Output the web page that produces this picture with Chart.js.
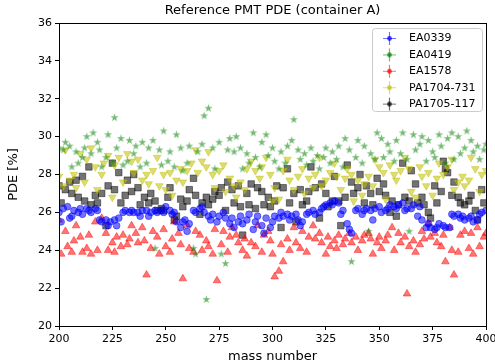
<!DOCTYPE html>
<html>
<head>
<meta charset="utf-8">
<script src="https://cdn.jsdelivr.net/npm/chart.js@4/dist/chart.umd.min.js"></script>
<style>
  body { margin: 0; background: #fff; }
  #wrap { width: 495px; height: 364px; }
</style>
</head>
<body>
<div id="wrap"><canvas id="pdeChart" width="495" height="364"></canvas></div>
<script>
// Mass numbers (x) shared by every PMT series
const masses = [
  200, 201, 202, 203, 204, 205, 206, 207, 208, 209, 210, 211, 212, 213, 214, 215, 216, 217, 218, 219,
  220, 221, 222, 223, 224, 225, 226, 227, 228, 229, 230, 231, 232, 233, 234, 235, 236, 237, 238, 239,
  240, 241, 242, 243, 244, 245, 246, 247, 248, 249, 250, 251, 252, 253, 254, 255, 256, 257, 258, 259,
  260, 261, 262, 263, 264, 265, 266, 267, 268, 269, 270, 271, 272, 273, 274, 275, 276, 277, 278, 279,
  280, 281, 282, 283, 284, 285, 286, 287, 288, 289, 290, 291, 292, 293, 294, 295, 296, 297, 298, 299,
  300, 301, 302, 303, 304, 305, 306, 307, 308, 309, 310, 311, 312, 313, 314, 315, 316, 317, 318, 319,
  320, 321, 322, 323, 324, 325, 326, 327, 328, 329, 330, 331, 332, 333, 334, 335, 336, 337, 338, 339,
  340, 341, 342, 343, 344, 345, 346, 347, 348, 349, 350, 351, 352, 353, 354, 355, 356, 357, 358, 359,
  360, 361, 362, 363, 364, 365, 366, 367, 368, 369, 370, 371, 372, 373, 374, 375, 376, 377, 378, 379,
  380, 381, 382, 383, 384, 385, 386, 387, 388, 389, 390, 391, 392, 393, 394, 395, 396, 397, 398, 399,
  400
];

// PDE [%] per mass number, one row per 10 masses (null = not measured)
const ea0339 = [
  26.0, 25.5, 26.2, null, 26.3, 25.7, 25.8, 26.1, null, 26.0,
  26.2, 25.9, null, 26.2, 26.1, 26.0, null, 26.2, 26.1, 25.6,
  25.5, null, 25.6, 25.3, 25.5, null, 25.6, 25.3, 25.7, null,
  26.0, 26.1, null, 26.0, 26.1, 26.0, null, 26.0, 25.8, 26.1,
  null, 26.1, 25.8, 26.0, null, 26.1, 26.0, null, 26.1, 26.0,
  26.3, null, 26.1, 25.9, 26.0, 25.5, null, 25.2, 25.5, 25.6,
  25.0, 25.4, null, 26.1, 26.0, null, 26.2, 26.3, 26.0, null,
  25.8, 25.6, 25.9, null, 25.5, 25.8, null, 26.0, 25.7, null,
  25.4, 25.7, 25.2, null, 25.5, 25.8, 25.4, null, 25.6, 25.9,
  null, 25.1, 25.5, 25.8, null, 25.3, 24.9, 25.7, null, 25.2,
  25.5, 25.8, null, 25.7, 26.0, 25.8, null, 25.9, 25.6, 25.8,
  null, 25.9, 25.6, 25.3, 25.5, null, 25.9, 26.0, null, 26.1,
  25.9, null, 26.0, 26.2, 26.3, 26.4, null, 26.5, 26.4, 26.6,
  null, 26.5, 25.9, 26.1, null, 25.4, 25.1, 24.9, null, 26.1,
  26.2, null, 25.9, 26.1, 26.2, null, 26.1, 25.6, 26.2, null,
  26.3, 26.0, null, 26.1, 26.2, 26.4, null, 26.3, 26.2, 26.4,
  null, 26.5, 26.1, 26.2, null, 26.2, 26.4, null, 25.8, 26.3,
  25.6, null, 25.2, 25.4, 25.2, null, 25.1, 25.2, 25.4, null,
  25.3, 25.2, null, 25.2, 25.9, 25.8, null, 25.9, 25.7, 25.8,
  25.6, null, 25.7, 25.8, 25.5, null, 25.6, 25.9, 26.0, null,
  26.1
];

const ea0419 = [
  29.4, null, 29.3, 29.7, null, 29.5, 28.4, null, 29.2, 28.6,
  null, 28.9, 29.4, 30.0, null, 29.1, 30.2, null, 29.7, 29.3,
  28.4, null, 28.9, 30.1, null, 28.6, 31.0, 29.4, null, 29.9,
  28.5, null, 28.7, 29.8, null, 29.1, 29.5, null, 28.4, 29.7,
  null, 28.6, 29.4, null, 29.8, 24.1, null, 29.3, 28.5, 30.3,
  null, 28.7, 29.2, null, 28.4, 30.1, null, 29.4, 28.2, null,
  28.6, 29.5, null, 24.1, 23.8, 29.2, null, 29.6, 31.1, 21.4,
  31.5, null, 29.4, 28.3, null, 29.7, 23.8, null, 23.3, 29.3,
  29.9, null, 29.2, 30.0, null, 29.4, 28.3, null, 29.1, 28.6,
  null, 30.2, 28.9, null, 28.4, 29.7, null, 30.1, 29.0, null,
  29.4, 28.7, null, 28.3, 29.2, null, 28.6, 29.5, null, 29.8,
  30.9, null, 29.3, 28.8, null, 29.1, 28.5, null, 29.4, 28.7,
  null, 29.0, 28.3, null, 28.9, 29.4, null, 28.6, 29.2, null,
  28.8, 29.5, null, 28.4, 29.9, null, 29.3, 23.4, null, 28.9,
  29.8, null, 28.6, 29.5, null, 25.0, 29.1, null, 28.8, 30.2,
  null, 29.9, 28.9, null, 29.6, 29.2, null, 28.7, 29.8, null,
  29.1, 30.2, null, 28.8, 25.0, null, 30.1, 29.3, null, 29.6,
  30.0, null, 28.7, 29.8, null, 29.2, 28.9, null, 30.1, 29.5,
  null, 28.6, 29.9, null, 30.2, 28.8, null, 30.0, 29.1, null,
  29.4, 30.3, null, 29.8, 29.2, null, 29.5, 28.8, null, 29.3,
  29.6
];

const ea1578 = [
  25.6, 23.8, null, 25.0, 24.2, null, 23.9, 24.5, 25.3, null,
  24.7, 23.9, null, 24.1, 24.8, 23.8, null, 25.5, 24.0, null,
  25.7, null, 24.9, 24.0, null, 24.4, 23.9, 24.7, null, 24.2,
  24.8, null, 24.3, 24.6, 25.3, null, 24.9, 24.4, null, 25.2,
  24.5, 22.7, null, 24.1, 25.0, null, 24.7, 23.8, null, 25.1,
  24.2, null, 23.9, 24.6, 25.5, null, 24.9, 24.3, 22.5, null,
  25.3, 24.1, null, 23.9, 25.0, null, 24.8, 24.0, null, 24.5,
  24.2, null, 23.8, 25.1, 22.4, null, 24.3, 25.0, null, 23.9,
  24.7, 25.2, null, 24.8, 24.4, null, 24.0, 24.6, 23.7, null,
  24.4, null, 24.2, 25.3, null, 23.9, 24.8, null, 25.0, 24.5,
  23.8, 22.6, null, 22.9, 24.3, 23.4, null, 24.6, 24.0, null,
  25.2, 24.4, null, 24.1, 25.0, null, 23.9, 24.7, null, 25.3,
  24.6, null, 24.9, 24.4, null, 23.8, 24.7, 24.2, null, 24.5,
  24.1, 24.8, null, 24.3, 24.6, null, 24.9, 24.4, null, 24.7,
  24.0, null, 24.5, 24.8, null, 24.9, 24.6, 23.8, null, 24.4,
  24.7, 24.1, null, 24.5, 24.8, null, 25.2, 24.0, null, 24.9,
  24.4, null, 24.7, 21.7, 24.2, null, 24.5, 23.9, null, 24.3,
  25.0, 24.6, null, 25.4, 24.7, null, 24.9, 24.4, null, 24.2,
  24.8, 23.4, null, 25.2, 24.0, 22.7, null, 23.9, 24.8, null,
  25.0, null, 24.1, 24.9, 23.8, null, 25.2, 24.2, null, 24.7,
  24.9
];

const pa1704 = [
  27.9, null, 27.4, 29.3, null, 27.7, null, 28.0, 27.3, null,
  29.1, null, 27.6, 28.8, null, 29.4, null, 28.4, 27.2, null,
  28.0, 28.6, null, 29.0, null, 26.8, 28.5, null, 28.9, null,
  27.6, null, 29.1, null, 28.7, 28.1, null, 28.8, null, 27.7,
  null, 28.0, 27.5, null, 28.2, null, 28.9, 27.4, null, 28.0,
  27.2, null, 28.1, 26.9, null, 27.7, null, 28.3, 27.6, null,
  28.2, null, 28.6, null, 29.3, 28.1, null, 28.7, null, 28.4,
  29.2, null, 28.0, 27.3, null, 28.2, null, 28.5, 27.1, null,
  27.8, null, 27.4, 26.8, null, 27.6, null, 27.2, 28.3, null,
  28.7, null, 28.2, null, 27.8, 28.4, null, 28.9, null, 28.0,
  26.6, 27.3, null, 26.7, null, 28.2, null, 28.8, 27.7, null,
  27.2, null, 27.9, null, 28.3, 27.0, null, 27.8, null, 27.3,
  28.0, null, 28.9, 27.4, null, 27.7, null, 28.1, null, 28.6,
  27.9, null, 27.2, null, 27.8, 28.3, null, 28.0, 26.6, null,
  27.7, null, 26.9, 27.5, null, 27.9, null, 27.4, 28.8, null,
  28.4, null, 28.1, 26.7, null, 28.5, null, 28.0, 27.7, null,
  28.2, null, 28.9, null, 28.3, 27.1, null, 26.8, null, 28.4,
  27.9, null, 27.4, 28.1, null, 26.9, null, 27.8, 28.6, null,
  28.0, null, 28.4, null, 28.8, 27.2, null, 27.6, null, 27.9,
  27.4, null, 27.7, 28.9, null, 28.3, null, 27.1, 28.0, null,
  28.2
];

const pa1705 = [
  27.4, 26.5, null, 27.2, null, 27.6, 27.0, null, 27.7, 26.8,
  null, 27.9, 26.6, null, 28.4, 26.4, null, 26.9, 26.5, null,
  27.0, null, 25.3, 27.4, null, 28.6, 27.2, null, 28.1, 26.5,
  null, 26.9, 27.7, null, 27.1, 28.0, null, 27.3, 26.4, null,
  26.8, null, 26.5, 27.0, null, 26.6, 26.1, null, 26.2, 26.1,
  null, 26.8, 27.3, null, 25.6, 25.8, null, 26.7, 26.3, null,
  26.6, 27.2, null, 27.8, 26.9, null, 25.9, 26.5, null, 26.8,
  26.4, null, 26.7, 27.1, null, 26.9, 27.3, null, 26.1, 27.6,
  null, 27.2, 26.5, null, 27.4, 26.3, 24.8, null, 27.0, 26.4,
  27.5, null, 26.2, 27.3, null, 27.1, 26.4, null, 26.8, 26.3,
  null, 26.6, 27.4, null, 25.2, 27.3, null, 28.3, 26.5, null,
  27.0, 25.5, null, 27.2, 26.4, null, 26.6, 27.1, 28.4, null,
  27.3, null, 25.7, 27.5, null, 27.0, 26.3, null, 26.6, 27.9,
  null, 26.6, 25.3, null, 26.8, 28.5, null, 27.6, 27.0, null,
  27.3, 28.0, null, 26.5, 27.4, null, 27.0, 26.4, null, 27.8,
  27.1, null, 27.5, 26.9, null, 26.0, 26.6, null, 25.8, 26.4,
  null, 28.6, 26.8, null, 26.6, 28.2, null, 27.5, 26.5, null,
  26.8, 26.4, null, 26.0, 25.7, null, 27.4, 26.5, null, 27.1,
  28.7, 28.3, 28.1, null, 26.9, 27.6, null, 26.8, 26.5, null,
  26.4, null, 26.6, 26.9, null, 26.1, 25.6, null, 27.2, 26.5,
  null
];

const seriesLabels = ['EA0339', 'EA0419', 'EA1578', 'PA1704-731', 'PA1705-117'];
const seriesValues = [ea0339, ea0419, ea1578, pa1704, pa1705];
const seriesRgb = ['0, 0, 255', '0, 128, 0', '255, 0, 0', '191, 191, 0', '0, 0, 0'];

const yTicks = [20, 22, 24, 26, 28, 30, 32, 34, 36];
const xTicks = [200, 225, 250, 275, 300, 325, 350, 375, 400];

const FONT = "'DejaVu Sans', sans-serif";
const ALPHA = 0.55;

// filled five-point star, like matplotlib's '*' marker
function makeStar(rgb, r) {
    const size = Math.ceil(2 * r + 2);
    const c = document.createElement('canvas');
    c.width = size; c.height = size;
    const ctx = c.getContext('2d');
    const cx = size / 2, cy = size / 2;
    ctx.beginPath();
    for (let i = 0; i < 10; i++) {
        const rad = i % 2 === 0 ? r : r * 0.38;
        const a = -Math.PI / 2 + i * Math.PI / 5;
        const px = cx + rad * Math.cos(a), py = cy + rad * Math.sin(a);
        if (i === 0) ctx.moveTo(px, py); else ctx.lineTo(px, py);
    }
    ctx.closePath();
    ctx.fillStyle = `rgba(${rgb}, ${ALPHA})`;
    ctx.fill();
    return c;
}

// errorbar-style legend handle: crosshair with a dot
function makeCross(rgb) {
    const c = document.createElement('canvas');
    c.width = 15; c.height = 15;
    const ctx = c.getContext('2d');
    ctx.strokeStyle = `rgba(${rgb}, ${ALPHA})`;
    ctx.lineWidth = 1.2;
    ctx.beginPath();
    ctx.moveTo(1, 7.5); ctx.lineTo(14, 7.5);
    ctx.moveTo(7.5, 1); ctx.lineTo(7.5, 14);
    ctx.stroke();
    ctx.fillStyle = `rgba(${rgb}, ${ALPHA + 0.2})`;
    ctx.beginPath();
    ctx.arc(7.5, 7.5, 2.4, 0, Math.PI * 2);
    ctx.fill();
    return c;
}

const markerStyles = [
    { pointStyle: 'circle', radius: 3.4, rotation: 0 },
    { pointStyle: makeStar(seriesRgb[1], 4.3), radius: 4, rotation: 0 },
    { pointStyle: 'triangle', radius: 4.4, rotation: 0 },
    { pointStyle: 'triangle', radius: 4.4, rotation: 180 },
    { pointStyle: 'rect', radius: 4.6, rotation: 0 }
];

// title above the axes, centred on the plot area
const titlePlugin = {
    id: 'axesTitle',
    afterDraw(chart) {
        const { ctx, chartArea } = chart;
        ctx.save();
        ctx.font = `13px ${FONT}`;
        ctx.fillStyle = '#000';
        ctx.textAlign = 'center';
        ctx.textBaseline = 'middle';
        ctx.fillText('Reference PMT PDE (container A)', (chartArea.left + chartArea.right) / 2, 11);
        ctx.restore();
    }
};

// closed box around the plot area
const framePlugin = {
    id: 'frame',
    afterDatasetsDraw(chart) {
        const { ctx, chartArea: a } = chart;
        ctx.save();
        ctx.strokeStyle = '#000';
        ctx.lineWidth = 1;
        ctx.strokeRect(Math.round(a.left) + 0.5, Math.round(a.top) + 0.5,
            Math.round(a.right - a.left), Math.round(a.bottom - a.top));
        ctx.restore();
    }
};

// legend inside the upper right corner
const legendPlugin = {
    id: 'insideLegend',
    afterDraw(chart) {
        const { ctx, chartArea: a } = chart;
        const w = 110, h = 83;
        const x = a.right - 4 - w, y = a.top + 5;
        ctx.save();
        ctx.beginPath();
        ctx.roundRect(x + 0.5, y + 0.5, w, h, 3);
        ctx.fillStyle = 'rgba(255, 255, 255, 0.8)';
        ctx.fill();
        ctx.strokeStyle = '#cccccc';
        ctx.lineWidth = 1;
        ctx.stroke();
        ctx.font = `11px ${FONT}`;
        ctx.fillStyle = '#000';
        ctx.textBaseline = 'middle';
        chart.data.datasets.forEach((ds, i) => {
            const cy = y + 10.5 + i * 16.4;
            ctx.drawImage(ds.legendHandle, x + 10, cy - 7.5);
            ctx.fillText(ds.label, x + 37, cy);
        });
        ctx.restore();
    }
};

function buildDatasets() {
    return seriesLabels.map((label, i) => {
        const color = `rgba(${seriesRgb[i]}, ${ALPHA})`;
        const m = markerStyles[i];
        return {
            label: label,
            data: masses.map((mass, j) => ({ x: mass, y: seriesValues[i][j] })),
            backgroundColor: color,
            borderColor: color,
            borderWidth: 0.8,
            pointStyle: m.pointStyle,
            pointRadius: m.radius,
            pointRotation: m.rotation,
            legendHandle: makeCross(seriesRgb[i])
        };
    });
}

const ctx = document.getElementById('pdeChart').getContext('2d');

new Chart(ctx, {
    type: 'scatter',
    data: { datasets: buildDatasets() },
    options: {
        responsive: false,
        animation: false,
        devicePixelRatio: 1,
        layout: { padding: { top: 23, right: 9, left: 0, bottom: 0 } },
        plugins: {
            legend: { display: false },
            tooltip: { enabled: false }
        },
        scales: {
            x: {
                type: 'linear',
                min: 200,
                max: 400,
                afterBuildTicks: scale => { scale.ticks = xTicks.map(v => ({ value: v })); },
                afterFit: scale => {
                    scale.height = 38;
                    scale.paddingLeft = 0;
                    scale.paddingRight = 0;
                },
                grid: { drawOnChartArea: false, drawTicks: true, tickLength: 4, color: '#000' },
                border: { display: true, color: '#000' },
                ticks: { color: '#000', font: { family: FONT, size: 11 }, padding: 3, maxRotation: 0 },
                title: { display: true, text: 'mass number', color: '#000', font: { family: FONT, size: 13 }, padding: { top: 0, bottom: 0 } }
            },
            y: {
                min: 20,
                max: 36,
                afterBuildTicks: scale => { scale.ticks = yTicks.map(v => ({ value: v })); },
                afterFit: scale => { scale.width = 59; },
                grid: { drawOnChartArea: false, drawTicks: true, tickLength: 4, color: '#000' },
                border: { display: true, color: '#000' },
                ticks: { color: '#000', font: { family: FONT, size: 11 }, padding: 3 },
                title: { display: true, text: 'PDE [%]', color: '#000', font: { family: FONT, size: 13 }, padding: { top: 6, bottom: 0 } }
            }
        }
    },
    plugins: [titlePlugin, framePlugin, legendPlugin]
});
</script>
</body>
</html>
